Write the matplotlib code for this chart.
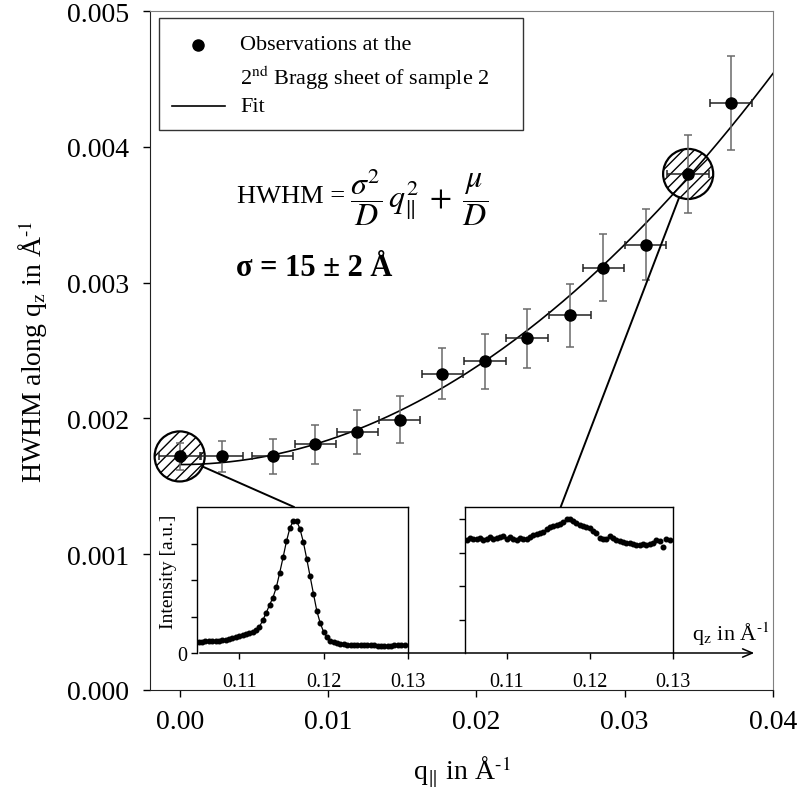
import numpy as np
import matplotlib.pyplot as plt
from matplotlib.patches import Rectangle, ConnectionPatch, FancyArrowPatch
from matplotlib.lines import Line2D

plt.rcParams['font.family'] = ['Liberation Serif', 'DejaVu Serif']
plt.rcParams['mathtext.fontset'] = 'stix'
plt.rcParams['hatch.linewidth'] = 1.0

# HWHM along q_z at the 2nd Bragg sheet of sample 2
q_par = [0.0, 0.00285, 0.00627, 0.00915, 0.01198, 0.01483, 0.01771,
         0.02057, 0.02342, 0.0263, 0.02857, 0.03142, 0.03428, 0.03716]
hwhm = [0.00172, 0.00172, 0.00172, 0.00181, 0.00190, 0.00199, 0.00233,
        0.00242, 0.00259, 0.00276, 0.00311, 0.00328, 0.00380, 0.00432]
hwhm_err = [0.00010, 0.000115, 0.000128, 0.000143, 0.00016, 0.000173, 0.000186,
            0.00020, 0.000216, 0.000232, 0.000245, 0.00026, 0.00029, 0.000345]
q_par_err = 0.0014

# fit parameters: HWHM = sigma^2/D * q^2 + mu/D
slope = 1.8        # sigma^2 / D
offset = 0.00166   # mu / D

# points whose q_z scans are shown below
zoomed = [0, 12]

# q_z scans (intensity in a.u.)
scan_q = [0.1052, 0.1056, 0.1060, 0.1064, 0.1068, 0.1072, 0.1076, 0.1080, 0.1084, 0.1088,
          0.1092, 0.1096, 0.1100, 0.1104, 0.1108, 0.1112, 0.1116, 0.1120, 0.1124, 0.1128,
          0.1132, 0.1136, 0.1140, 0.1144, 0.1148, 0.1152, 0.1156, 0.1160, 0.1164, 0.1168,
          0.1172, 0.1176, 0.1180, 0.1184, 0.1188, 0.1192, 0.1196, 0.1200, 0.1204, 0.1208,
          0.1212, 0.1216, 0.1220, 0.1224, 0.1228, 0.1232, 0.1236, 0.1240, 0.1244, 0.1248,
          0.1252, 0.1256, 0.1260, 0.1264, 0.1268, 0.1272, 0.1276, 0.1280, 0.1284, 0.1288,
          0.1292, 0.1296]
scan_low = [0.31, 0.31, 0.32, 0.32, 0.33, 0.33, 0.34, 0.35, 0.36, 0.38,
            0.41, 0.43, 0.47, 0.50, 0.53, 0.55, 0.58, 0.63, 0.72, 0.90,
            1.10, 1.32, 1.52, 1.80, 2.20, 2.62, 3.06, 3.42, 3.62, 3.62,
            3.40, 3.04, 2.58, 2.10, 1.62, 1.15, 0.82, 0.58, 0.43, 0.34,
            0.29, 0.27, 0.25, 0.24, 0.23, 0.23, 0.22, 0.23, 0.23, 0.22,
            0.23, 0.22, 0.21, 0.20, 0.20, 0.19, 0.20, 0.20, 0.21, 0.21,
            0.22, 0.22]
scan_high = [3.38, 3.45, 3.42, 3.40, 3.44, 3.38, 3.42, 3.48, 3.40, 3.43,
             3.47, 3.50, 3.42, 3.46, 3.40, 3.37, 3.44, 3.40, 3.42, 3.48,
             3.52, 3.55, 3.60, 3.63, 3.70, 3.76, 3.80, 3.82, 3.86, 3.93,
             4.01, 4.00, 3.96, 3.90, 3.84, 3.80, 3.76, 3.74, 3.66, 3.58,
             3.44, 3.40, 3.42, 3.50, 3.44, 3.38, 3.36, 3.32, 3.28, 3.30,
             3.26, 3.24, 3.22, 3.25, 3.24, 3.27, 3.30, 3.38, 3.34, 3.18,
             3.40, 3.38]

W, H = 799, 803


def fx(px):
    return px / W


def fy(py):
    return 1 - py / H


fig = plt.figure(figsize=(W / 100, H / 100), dpi=100)
ax = fig.add_axes([fx(150), fy(691), fx(773) - fx(150), fy(12) - fy(691)])

# fit curve
q_fit = np.linspace(0, 0.04, 300)
ax.plot(q_fit, slope * q_fit ** 2 + offset, color='black', lw=1.2, zorder=3)

# hatched circles around the points with shown scans
ax.scatter([q_par[i] for i in zoomed], [hwhm[i] for i in zoomed], s=1300,
           facecolors='none', edgecolors='black', linewidths=1.6, hatch='///', zorder=2)

# error bars: q_par in black, HWHM in grey
ax.errorbar(q_par, hwhm, xerr=q_par_err, fmt='none', ecolor='#222222',
            elinewidth=1.1, capsize=3.2, capthick=1.1, zorder=4)
ax.errorbar(q_par, hwhm, yerr=hwhm_err, fmt='none', ecolor='#6a6a6a',
            elinewidth=1.1, capsize=3.2, capthick=1.1, zorder=4)
ax.plot(q_par, hwhm, 'o', color='black', ms=8, zorder=5)

ax.set_xlim(-0.002, 0.04)
ax.set_ylim(0, 0.005)
ax.set_xticks([0.0, 0.01, 0.02, 0.03, 0.04])
ax.set_xticklabels(['0.00', '0.01', '0.02', '0.03', '0.04'])
ax.set_yticks([0, 0.001, 0.002, 0.003, 0.004, 0.005])
ax.set_yticklabels(['0.000', '0.001', '0.002', '0.003', '0.004', '0.005'])
ax.tick_params(direction='out', length=5, width=1, labelsize=20)
ax.tick_params(axis='x', pad=9)
ax.tick_params(axis='y', pad=10)
for side in ['top', 'right']:
    ax.spines[side].set_color('#808080')
for side in ['left', 'bottom']:
    ax.spines[side].set_color('#222222')

ax.set_xlabel(r'q$_{\Vert}$ in Å$^{\text{-1}}$', fontsize=20, labelpad=14)
ax.set_ylabel(r'HWHM along q$_{\mathrm{z}}$ in Å$^{\text{-1}}$', fontsize=20, labelpad=12)

# formula and result
fig.text(fx(237), fy(197), 'HWHM =', fontsize=19, ha='left', va='center')
fig.text(fx(350), fy(197), r'$\dfrac{\sigma^2}{D}\,q_{\Vert}^{2}\;+\;\dfrac{\mu}{D}$',
         fontsize=23, ha='left', va='center')
fig.text(fx(236), fy(268), 'σ = 15 ± 2 Å', fontsize=22, fontweight='bold',
         ha='left', va='center')

# legend
fig.add_artist(Rectangle((fx(159), fy(131)), fx(523) - fx(159), fy(19) - fy(131),
                         transform=fig.transFigure, facecolor='white',
                         edgecolor='#333333', lw=1.0, zorder=6))
fig.add_artist(Line2D([fx(198)], [fy(46)], marker='o', ms=8, color='black',
                      transform=fig.transFigure, zorder=7))
fig.add_artist(Line2D([fx(172), fx(225)], [fy(107), fy(107)], color='black', lw=1.2,
                      transform=fig.transFigure, zorder=7))
fig.text(fx(240), fy(46), 'Observations at the', fontsize=16, va='center', zorder=8)
fig.text(fx(240), fy(78), r'2$^{\mathrm{nd}}$ Bragg sheet of sample 2', fontsize=16,
         va='center', zorder=8)
fig.text(fx(240), fy(107), 'Fit', fontsize=16, va='center', zorder=8)

# q_z scans
in1 = fig.add_axes([fx(197), fy(654), fx(408) - fx(197), fy(508) - fy(654)])
in2 = fig.add_axes([fx(465), fy(654), fx(673) - fx(465), fy(508) - fy(654)])

in1.plot(scan_q, scan_low, '-o', color='black', lw=0.9, ms=3.3)
in1.set_ylim(0, 4)
in1.set_yticks([0, 1, 2, 3])
in1.set_yticklabels(['0', '', '', ''])
in1.set_ylabel('Intensity [a.u.]', fontsize=14)
in1.yaxis.set_label_coords(-0.095, 0.56)

in2.plot(scan_q, scan_high, 'o', color='black', ms=3.3)
in2.set_ylim(0, 4.37)
in2.set_yticks([1, 2, 3, 4])
in2.set_yticklabels([])

for a in [in1, in2]:
    a.set_xlim(0.105, 0.13)
    a.set_xticks([0.11, 0.12, 0.13])
    a.set_xticklabels(['0.11', '0.12', '0.13'])
    a.tick_params(direction='out', length=4, width=1, labelsize=14.5)
    a.tick_params(axis='x', pad=10)
    a.tick_params(axis='y', pad=3)
    a.spines['bottom'].set_visible(False)
    for side in ['top', 'right', 'left']:
        a.spines[side].set_linewidth(1.0)

# shared q_z axis arrow
fig.add_artist(FancyArrowPatch((fx(197), fy(654)), (fx(757), fy(654)),
                               transform=fig.transFigure,
                               arrowstyle='->,head_length=0.7,head_width=0.3',
                               mutation_scale=10, lw=1.1, color='black'))
fig.text(fx(692), fy(641), r'q$_{\mathrm{z}}$ in Å$^{\text{-1}}$', fontsize=16,
         ha='left', va='baseline')

# lines from the circled points to their scans
for i, inset in zip(zoomed, [in1, in2]):
    con = ConnectionPatch(xyA=(q_par[i], hwhm[i]), coordsA=ax.transData,
                          xyB=(0.46, 1.0), coordsB=inset.transAxes,
                          arrowstyle='-', shrinkA=18, shrinkB=0,
                          lw=1.4, color='black')
    fig.add_artist(con)

fig.savefig('out.png', dpi=100)
